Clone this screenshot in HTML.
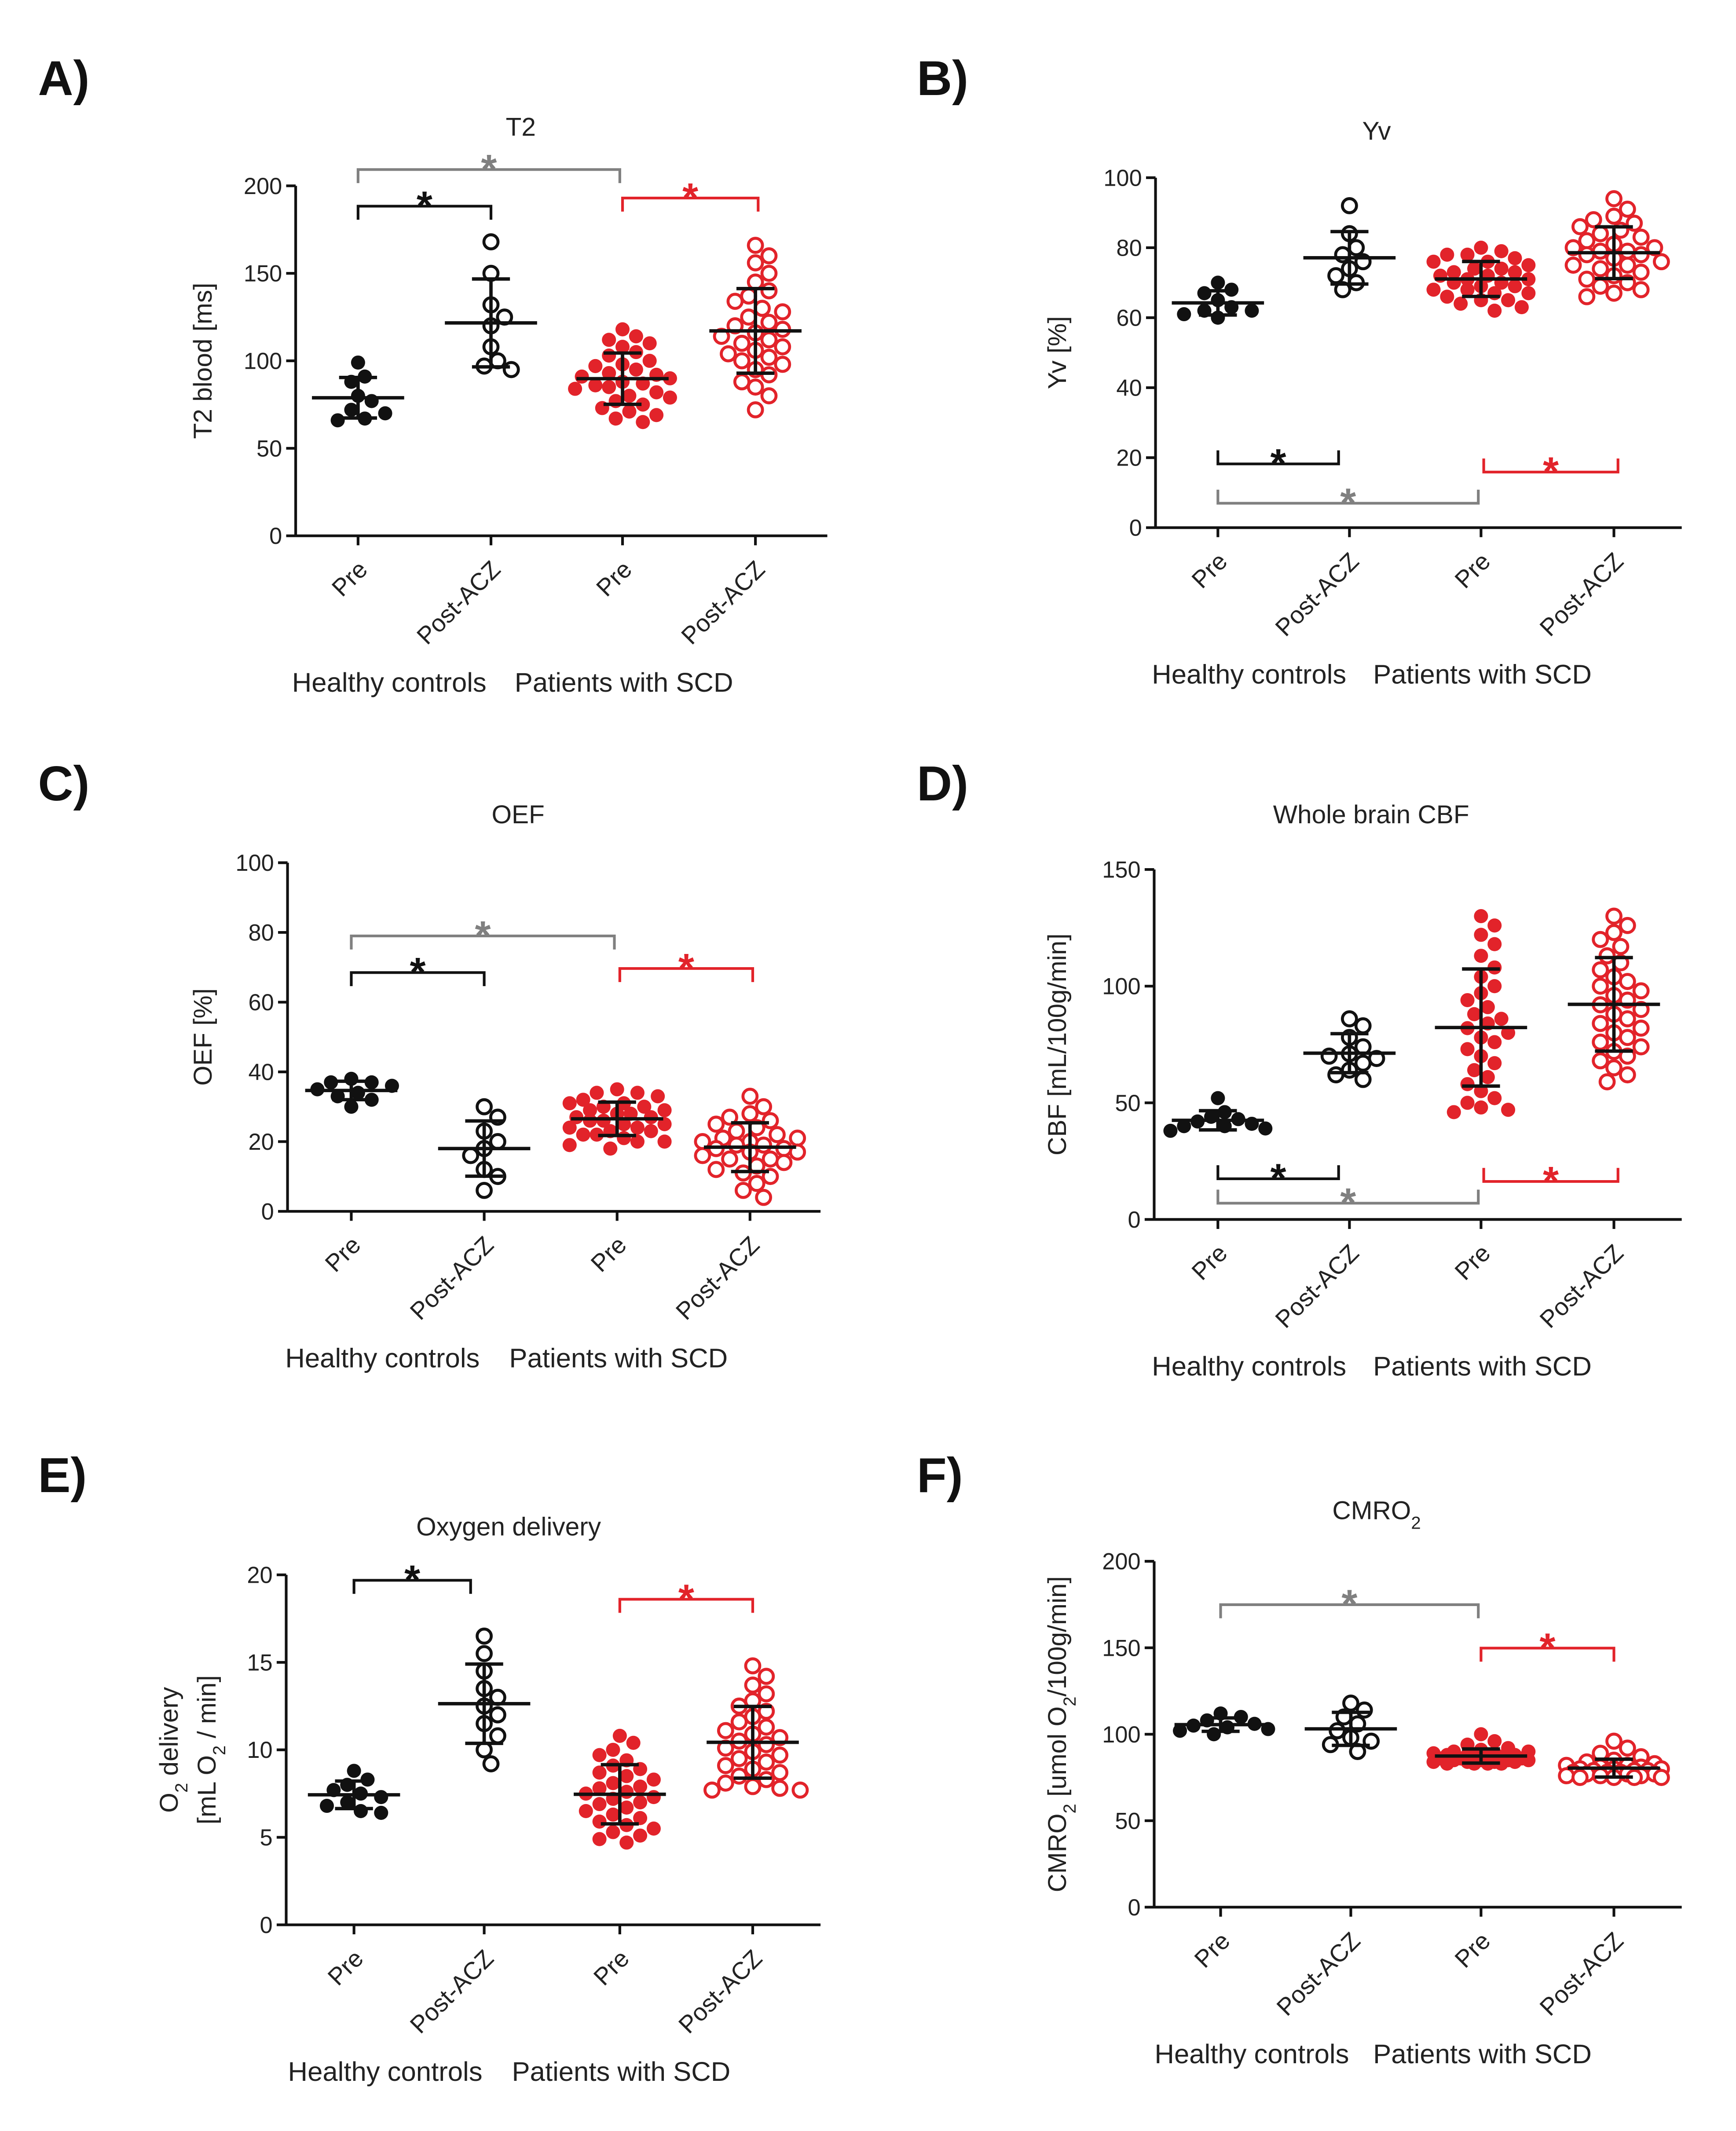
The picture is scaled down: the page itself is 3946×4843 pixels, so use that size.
<!DOCTYPE html>
<html><head><meta charset="utf-8"><style>
html,body{margin:0;padding:0;background:#fff}
svg{display:block}
text{font-family:"Liberation Sans",sans-serif}
</style></head><body>
<svg id="fig" width="3946" height="4843" viewBox="0 0 1280 1571" xmlns="http://www.w3.org/2000/svg"></svg>
<script>
// ---- data ----
const groupNames = ["Pre","Post-ACZ","Pre","Post-ACZ"];
const t2HcPre = [99,91,88,80,77,72,70,67,66];
const t2HcPost = [168,150,132,125,120,108,100,97,95];
const t2ScdPre = [118,114,112,110,108,105,103,100,98,97,95,93,92,91,90,88,87,86,85,84,82,80,79,77,75,73,71,69,67,65];
const t2ScdPost = [166,160,156,150,145,140,137,134,130,128,125,122,120,118,116,114,112,110,108,106,104,102,100,98,95,92,88,85,80,72];
const yvHcPre = [70,68,67,65,63,62,61,60,62];
const yvHcPost = [92,84,80,78,76,74,72,70,68];
const yvScdPre = [80,79,78,78,77,76,76,75,74,74,73,73,72,72,71,71,70,70,69,69,68,68,67,67,66,65,65,64,63,62];
const yvScdPost = [94,91,89,88,87,86,85,84,83,82,81,80,80,79,79,78,78,77,76,75,75,74,73,72,71,70,69,68,67,66];
const oefHcPre = [38,37,37,36,35,34,33,32,30];
const oefHcPost = [30,27,23,20,18,16,12,10,6];
const oefScdPre = [35,34,34,33,32,31,31,30,30,29,29,28,28,27,27,26,26,25,25,24,24,23,23,22,22,21,20,20,19,18];
const oefScdPost = [33,30,28,27,26,25,24,23,22,21,21,20,20,19,19,18,18,17,17,16,15,15,14,13,12,11,10,8,6,4];
const cbfHcPre = [52,46,44,43,42,41,40,39,38,40];
const cbfHcPost = [86,83,78,74,71,69,67,64,62,60,70];
const cbfScdPre = [130,126,122,118,113,108,104,100,97,94,91,88,86,84,82,80,78,76,73,70,67,64,61,58,55,52,50,48,47,46];
const cbfScdPost = [130,126,123,120,117,113,110,107,104,102,100,98,96,94,92,90,88,86,84,82,80,78,76,74,72,70,68,65,62,59];
const o2HcPre = [8.8,8.3,8,7.7,7.5,7.3,7,6.8,6.5,6.4];
const o2HcPost = [16.5,15.5,14.5,13.5,13,12.5,12,11.5,10.8,10,9.2];
const o2ScdPre = [10.8,10.4,10,9.7,9.4,9.1,8.9,8.7,8.5,8.3,8.1,7.9,7.8,7.6,7.5,7.3,7.2,7,6.9,6.7,6.5,6.3,6.1,5.9,5.7,5.5,5.3,5.1,4.9,4.7];
const o2ScdPost = [14.8,14.2,13.7,13.2,12.8,12.5,12.2,11.9,11.6,11.3,11.1,10.9,10.7,10.5,10.3,10.1,9.9,9.7,9.5,9.3,9.1,8.9,8.7,8.5,8.3,8.1,7.9,7.8,7.7,7.7];
const cmHcPre = [112,110,108,106,105,104,103,102,100];
const cmHcPost = [118,114,110,106,102,98,94,90,96];
const cmScdPre = [100,96,94,92,91,90,90,89,89,88,88,88,87,87,87,86,86,86,85,85,85,85,84,84,84,84,83,83,83,83];
const cmScdPost = [96,92,89,87,85,84,83,82,82,81,81,80,80,80,79,79,79,78,78,78,77,77,77,76,76,76,75,75,75,75];

const svg = document.getElementById('fig');
const NS = 'http://www.w3.org/2000/svg';
const RED = '#e2232a', GRAY = '#808080';
function el(tag, attrs, parent){const e=document.createElementNS(NS,tag);for(const k in attrs)e.setAttribute(k,attrs[k]);(parent||svg).appendChild(e);return e;}
function txt(s, attrs, parent){const e=el('text',attrs,parent);e.textContent=s;return e;}
function stats(a){const m=a.reduce((p,c)=>p+c,0)/a.length;const sd=Math.sqrt(a.reduce((p,c)=>p+(c-m)*(c-m),0)/(a.length-1));return [m,sd];}

function swarm(ys){
  const placed=[];const offs=[0];
  for(let k=1;k<=7;k++){offs.push(k*5);offs.push(-k*5);}
  return ys.map(py=>{
    let best=0,bestD=-1;
    for(const o of offs){
      let d=1e9;placed.forEach(p=>{d=Math.min(d,Math.hypot(p[0]-o,p[1]-py));});
      if(d>=10.5){best=o;bestD=1e9;break;}
      if(d>bestD){bestD=d;best=o;}
    }
    placed.push([best,py]);return best;
  });
}

function panel(cfg){
  const g=el('g',{fill:'#222'});
  
  
  const y=v=>cfg.y0+(cfg.y1-cfg.y0)*(v-cfg.min)/(cfg.max-cfg.min);
  const L=txt(cfg.letter,{x:cfg.lx,y:cfg.ly,'font-size':36,'font-weight':'bold',fill:'#111'},g);
  
  const T=el('text',{x:cfg.tx,y:cfg.ty,'font-size':19,'text-anchor':'middle'},g);
  T.innerHTML=cfg.title;
  
  const ya=el('line',{x1:cfg.ax,y1:cfg.y0,x2:cfg.ax,y2:cfg.y1,stroke:'#111','stroke-width':2},g);
  
  const xa=el('line',{x1:cfg.ax,y1:cfg.y0,x2:cfg.axEnd,y2:cfg.y0,stroke:'#111','stroke-width':2},g);
  
  cfg.ticks.forEach(t=>{
    el('line',{x1:cfg.ax-7,x2:cfg.ax,y1:y(t),y2:y(t),stroke:'#111','stroke-width':2},g);
    const tl=txt(String(t),{x:cfg.ax-10,y:y(t)+6,'font-size':17,'text-anchor':'end'},g);
    
  });
  const ymid=(cfg.y0+cfg.y1)/2;
  cfg.ylab.forEach((s,i)=>{
    const yl=el('text',{x:0,y:0,'font-size':19,'text-anchor':'middle',transform:`translate(${cfg.ylx+i*28},${ymid}) rotate(-90)`},g);
    yl.innerHTML=s;
    
  });
  cfg.cats.forEach((cx,i)=>{
    el('line',{x1:cx,x2:cx,y1:cfg.y0,y2:cfg.y0+7,stroke:'#111','stroke-width':2},g);
    const xl=txt(groupNames[i],{x:0,y:0,'font-size':18,'text-anchor':'end',transform:`translate(${cx+8},${cfg.y0+26}) rotate(-45)`},g);
    
  });
  const h=txt('Healthy controls',{x:cfg.cats[0]+23,y:cfg.y0+115,'font-size':20,'text-anchor':'middle'},g);
  
  const p=txt('Patients with SCD',{x:cfg.cats[2]+1,y:cfg.y0+115,'font-size':20,'text-anchor':'middle'},g);
  
  cfg.data.forEach((arr,gi)=>{
    const col=gi<2?'#111':RED, filled=gi%2===0, cx=cfg.cats[gi];
    const ys=arr.map(v=>y(v)).sort((a,b)=>a-b);
    const offs=swarm(ys);
    ys.forEach((py,i)=>{
      const c=el('circle',{cx:cx+offs[i],cy:py,r:5.2,fill:filled?col:'#fff',stroke:col,'stroke-width':filled?0:2.2},g);
      
    });
    const [m,sd]=stats(arr);
    const eb=el('g',{stroke:'#111','stroke-width':2.5},g);
    
    el('line',{x1:cx-34,x2:cx+34,y1:y(m),y2:y(m)},eb);
    el('line',{x1:cx,x2:cx,y1:y(m-sd),y2:y(m+sd)},eb);
    el('line',{x1:cx-14,x2:cx+14,y1:y(m-sd),y2:y(m-sd)},eb);
    el('line',{x1:cx-14,x2:cx+14,y1:y(m+sd),y2:y(m+sd)},eb);
  });
  cfg.br.forEach(b=>{
    const [x1,x2,by,col,dir]=b;
    const bg=el('g',{},g);
    
    el('path',{d:`M${x1},${by+10*dir}V${by}H${x2}V${by+10*dir}`,fill:'none',stroke:col,'stroke-width':2},bg);
    txt('*',{x:(x1+x2)/2,y:by+10,'font-size':30,'font-weight':'bold','text-anchor':'middle',style:'fill:'+col},bg);
  });
}

panel({name:'panel-a-t2',letter:'A)',lx:28,ly:70,title:'T2',tx:384,ty:100,ax:218,axEnd:610,y0:395,y1:137,min:0,max:200,ticks:[0,50,100,150,200],
  ylab:['T2 blood [ms]'],ylx:156,cats:[264,362,459,557],data:[t2HcPre,t2HcPost,t2ScdPre,t2ScdPost],
  br:[[264,457,125,GRAY,1],[264,362,152,'#111',1],[459,559,146,RED,1]]});
panel({name:'panel-b-yv',letter:'B)',lx:676,ly:70,title:'Yv',tx:1015,ty:103,ax:852,axEnd:1240,y0:389,y1:131,min:0,max:100,ticks:[0,20,40,60,80,100],
  ylab:['Yv [%]'],ylx:786,cats:[898,995,1092,1190],data:[yvHcPre,yvHcPost,yvScdPre,yvScdPost],
  br:[[898,987,342,'#111',-1],[898,1090,371,GRAY,-1],[1094,1193,348,RED,-1]]});
panel({name:'panel-c-oef',letter:'C)',lx:28,ly:590,title:'OEF',tx:382,ty:607,ax:212,axEnd:605,y0:893,y1:636,min:0,max:100,ticks:[0,20,40,60,80,100],
  ylab:['OEF [%]'],ylx:156,cats:[259,357,455,553],data:[oefHcPre,oefHcPost,oefScdPre,oefScdPost],
  br:[[259,453,690,GRAY,1],[259,357,717,'#111',1],[457,555,714,RED,1]]});
panel({name:'panel-d-cbf',letter:'D)',lx:676,ly:590,title:'Whole brain CBF',tx:1011,ty:607,ax:851,axEnd:1240,y0:899,y1:641,min:0,max:150,ticks:[0,50,100,150],
  ylab:['CBF [mL/100g/min]'],ylx:786,cats:[898,995,1092,1190],data:[cbfHcPre,cbfHcPost,cbfScdPre,cbfScdPost],
  br:[[898,987,869,'#111',-1],[898,1090,887,GRAY,-1],[1094,1193,871,RED,-1]]});
panel({name:'panel-e-o2-delivery',letter:'E)',lx:28,ly:1100,title:'Oxygen delivery',tx:375,ty:1132,ax:211,axEnd:605,y0:1419,y1:1161,min:0,max:20,ticks:[0,5,10,15,20],
  ylab:['O<tspan baseline-shift="sub" font-size="13">2</tspan> delivery','[mL O<tspan baseline-shift="sub" font-size="13">2</tspan> / min]'],ylx:131,cats:[261,357,457,555],data:[o2HcPre,o2HcPost,o2ScdPre,o2ScdPost],
  br:[[261,347,1165,'#111',1],[457,555,1179,RED,1]]});
panel({name:'panel-f-cmro2',letter:'F)',lx:676,ly:1100,title:'CMRO<tspan baseline-shift="sub" font-size="13">2</tspan>',tx:1015,ty:1120,ax:851,axEnd:1240,y0:1406,y1:1151,min:0,max:200,ticks:[0,50,100,150,200],
  ylab:['CMRO<tspan baseline-shift="sub" font-size="13">2</tspan> [umol O<tspan baseline-shift="sub" font-size="13">2</tspan>/100g/min]'],ylx:786,cats:[900,996,1092,1190],data:[cmHcPre,cmHcPost,cmScdPre,cmScdPost],
  br:[[900,1090,1183,GRAY,1],[1092,1190,1215,RED,1]]});
</script>
</body></html>
